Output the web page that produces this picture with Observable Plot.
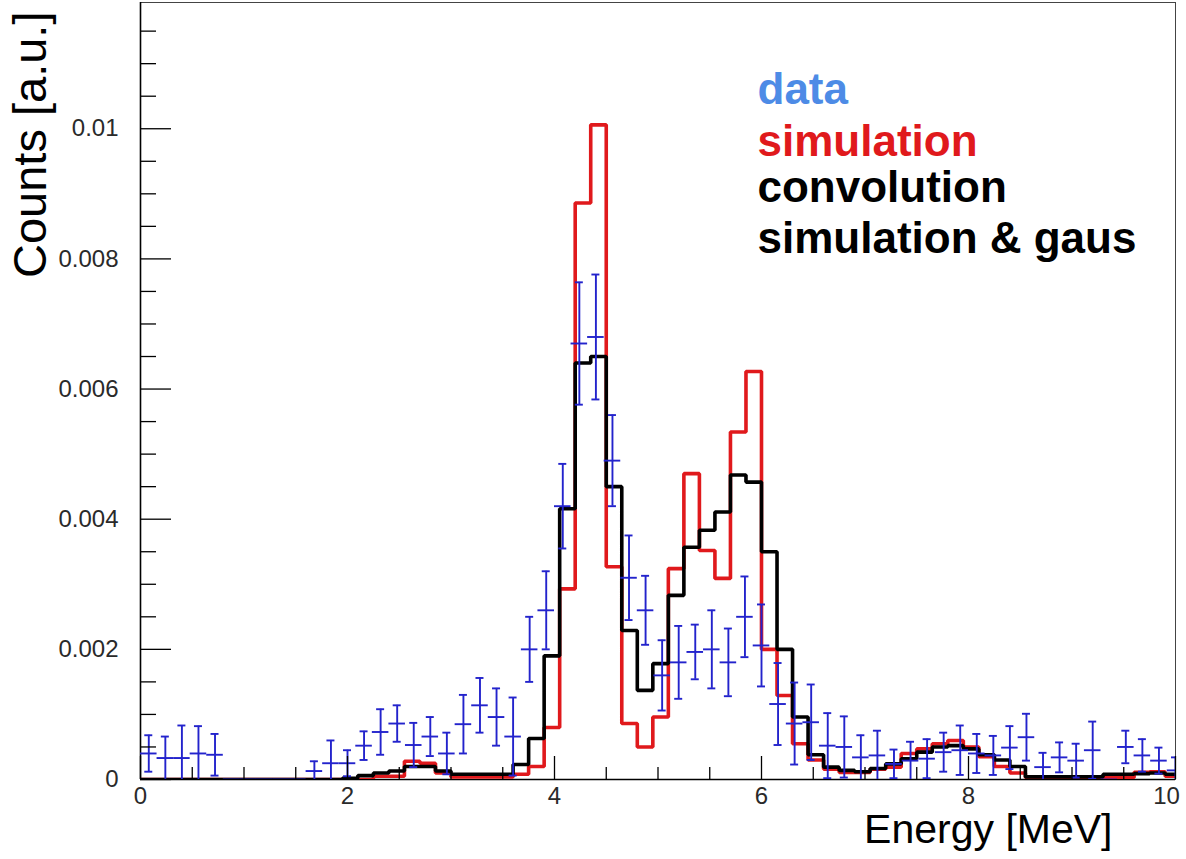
<!DOCTYPE html>
<html>
<head>
<meta charset="utf-8">
<script src="https://cdn.jsdelivr.net/npm/d3@7"></script>
<script src="https://cdn.jsdelivr.net/npm/@observablehq/plot@0.6"></script>
<style>
  html, body { margin: 0; padding: 0; background: #fff; }
</style>
</head>
<body>
<div id="chart"></div>
<script>
// ---- Simulated spectra (0.15 MeV bins starting at 0 MeV) ----
const simBinWidth = 0.15;
const simulation = [
  0, 0, 0, 0, 0, 0, 0, 0, 0, 0,
  0, 0, 0, 0, 0, 0.00005, 0.00005, 0.00028, 0.00025, 0.0001,
  0.00004, 0.00004, 0.00004, 0.00004, 0.00008, 0.0002, 0.0008, 0.00293, 0.00886, 0.01006,
  0.00327, 0.00086, 0.0005, 0.00096, 0.00324, 0.0047, 0.00352, 0.00309, 0.00534, 0.00627,
  0.002, 0.00129, 0.00055, 0.0003, 0.00016, 0.00011, 0.00011, 0.00016, 0.00019, 0.0004,
  0.00047, 0.00055, 0.0006, 0.0005, 0.00035, 0.0002, 0.0001, 0.00003, 0.00003, 0.00003,
  0.00003, 0.00003, 0.00003, 0.00003, 0.00011, 0.00012, 0.00005
];
const convolution = [
  0, 0, 0, 0, 0, 0, 0, 0, 0, 0,
  0, 0, 0, 0.00002, 0.00006, 0.0001, 0.00013, 0.0002, 0.0002, 0.00013,
  0.00008, 0.00008, 0.00008, 0.00008, 0.00023, 0.00063, 0.0019, 0.00416, 0.0064, 0.0065,
  0.0045, 0.00229, 0.00137, 0.00178, 0.00283, 0.00357, 0.00383, 0.00411, 0.00468, 0.00457,
  0.0035, 0.002, 0.00096, 0.00038, 0.00019, 0.00014, 0.00012, 0.00017, 0.00024, 0.00032,
  0.00042, 0.0005, 0.00052, 0.00047, 0.00038, 0.0003, 0.0002, 0.00004, 0.00004, 0.00004,
  0.00004, 0.00004, 0.00008, 0.00008, 0.00009, 0.0001, 0.00008
];

// ---- Measured spectrum (0.16 MeV bins starting at 0 MeV) ----
const dataBinWidth = 0.16;
const dataCounts = [
  0.0004, 0.00033, 0.00033, 0.0004, 0.00038, 0, 0, 0, 0, 0,
  0.00013, 0.00025, 0.00025, 0.00052, 0.00073, 0.00086, 0.00053, 0.00066, 0.0004, 0.00085,
  0.00114, 0.00096, 0.00066, 0.002, 0.0026, 0.0042, 0.0067, 0.0068, 0.0049, 0.0031,
  0.0026, 0.0016, 0.0018, 0.00196, 0.002, 0.0018, 0.0025, 0.00206, 0.00116, 0.00086,
  0.00088, 0.00052, 0.0005, 0.00034, 0.00037, 0.00024, 0.00029, 0.00032, 0.00042, 0.00045,
  0.0004, 0.00037, 0.00049, 0.00065, 0.00019, 0.00034, 0.00029, 0.00045, 0, 0.0005,
  0.00037, 0.00029, 0.00014
];
const dataErrors = [
  0.00028, 0.00033, 0.0005, 0.00042, 0.00032, 0, 0, 0, 0, 0,
  0.00015, 0.00035, 0.0002, 0.00022, 0.00035, 0.00028, 0.00034, 0.0003, 0.00032, 0.00045,
  0.00042, 0.00044, 0.0006, 0.0005, 0.0006, 0.00065, 0.00094, 0.00096, 0.0007, 0.00065,
  0.00053, 0.00054, 0.00056, 0.00042, 0.0006, 0.00052, 0.00062, 0.00063, 0.00063, 0.00063,
  0.00058, 0.0005, 0.00047, 0.00034, 0.00038, 0.00022, 0.00029, 0.0003, 0.0003, 0.00038,
  0.0003, 0.0003, 0.00033, 0.00036, 0.00022, 0.00023, 0.00026, 0.00044, 0, 0.00025,
  0.00025, 0.0002, 0.0002
];

// ---- Axes ----
const xDomain = [0, 10];
const yDomain = [0, 0.01194];
const xTicks = [0, 2, 4, 6, 8, 10];
const xTickLabels = ["0", "2", "4", "6", "8", "10"];
const yTicks = [0, 0.002, 0.004, 0.006, 0.008, 0.01];
const yTickLabels = ["0", "0.002", "0.004", "0.006", "0.008", "0.01"];

// ---- Legend ----
const legendLabels = ["data", "simulation", "convolution", "simulation & gaus"];
const legendColors = ["#4d8be6", "#e0191c", "#000000", "#000000"];

// ---- Layout ----
const width = 1186, height = 859;
const margin = {top: 2, right: 11, bottom: 80, left: 140};
const plotW = width - margin.left - margin.right;
const plotH = height - margin.top - margin.bottom;
const pxPerMeV = plotW / (xDomain[1] - xDomain[0]);
const font = "'Liberation Sans', Arial, Helvetica, sans-serif";

const RED = "#e0191c";
const BLUE = "#2323cc";

// Step outline of a histogram: flat top across each bin
function stepOutline(values, w) {
  const pts = [];
  values.forEach((v, i) => {
    const lo = i * w;
    if (lo >= xDomain[1]) return;
    const hi = Math.min((i + 1) * w, xDomain[1]);
    pts.push({x: lo, y: v}, {x: hi, y: v});
  });
  return pts;
}

const simSteps = stepOutline(simulation, simBinWidth);
const convSteps = stepOutline(convolution, simBinWidth);

const dataRows = dataCounts.map((v, i) => ({
  lo: i * dataBinWidth,
  hi: Math.min((i + 1) * dataBinWidth, xDomain[1]),
  c: i * dataBinWidth + dataBinWidth / 2,
  v,
  e: dataErrors[i]
}));
const withErr = dataRows.filter(d => d.e > 0);
const capHalf = 4 / pxPerMeV;

// Inward ROOT-style ticks
const yMinor = d3.range(1, 24).map(i => i * 0.0005).filter(t => Math.abs(t / 0.002 - Math.round(t / 0.002)) > 1e-6);
const xMinor = d3.range(1, 20).map(i => i * 0.5).filter(t => t % 2 !== 0);

const lastX = xTicks.length - 1;

const chart = Plot.plot({
  width, height,
  marginTop: margin.top, marginRight: margin.right,
  marginBottom: margin.bottom, marginLeft: margin.left,
  style: {fontFamily: font, background: "#fff", color: "#000", overflow: "visible"},
  x: {domain: xDomain},
  y: {domain: yDomain},
  marks: [
    // frame and axis lines
    Plot.frame({stroke: "#444", strokeWidth: 1}),
    Plot.ruleX([xDomain[0]], {stroke: "#000", strokeWidth: 1.6}),
    Plot.ruleY([yDomain[0]], {stroke: "#000", strokeWidth: 1.6}),

    // simulation histogram
    Plot.line(simSteps, {x: "x", y: "y", stroke: RED, strokeWidth: 3.6, strokeLinejoin: "miter", clip: true}),
    // convolution of simulation with a gaussian
    Plot.line(convSteps, {x: "x", y: "y", stroke: "#000", strokeWidth: 3.6, strokeLinejoin: "miter", clip: true}),
    // measured data: bin-wide bars and error bars with caps
    Plot.ruleY(dataRows, {y: "v", x1: "lo", x2: "hi", stroke: BLUE, strokeWidth: 1.9, clip: true}),
    Plot.ruleX(withErr, {x: "c", y1: d => Math.max(0, d.v - d.e), y2: d => d.v + d.e, stroke: BLUE, strokeWidth: 1.9, clip: true}),
    Plot.ruleY(withErr, {y: d => d.v + d.e, x1: d => d.c - capHalf, x2: d => d.c + capHalf, stroke: BLUE, strokeWidth: 1.9, clip: true}),
    Plot.ruleY(withErr.filter(d => d.v - d.e > 0), {y: d => d.v - d.e, x1: d => d.c - capHalf, x2: d => d.c + capHalf, stroke: BLUE, strokeWidth: 1.9, clip: true}),

    // tick marks pointing into the frame
    Plot.ruleY(yTicks, {y: d => d, insetRight: plotW - 31, stroke: "#000", strokeWidth: 1.3}),
    Plot.ruleY(yMinor, {y: d => d, insetRight: plotW - 16, stroke: "#000", strokeWidth: 1.3}),
    Plot.ruleX(xTicks, {x: d => d, insetTop: plotH - 23, stroke: "#000", strokeWidth: 1.3}),
    Plot.ruleX(xMinor, {x: d => d, insetTop: plotH - 12, stroke: "#000", strokeWidth: 1.3}),

    // tick labels
    Plot.axisY({ticks: yTicks, tickFormat: (d, i) => yTickLabels[i], tickSize: 0, tickPadding: 22, fontSize: 24, fill: "#2a2a2a", label: null}),
    Plot.axisX({ticks: xTicks.slice(0, lastX), tickFormat: (d, i) => xTickLabels[i], tickSize: 0, tickPadding: 7, fontSize: 24, fill: "#2a2a2a", label: null}),
    Plot.axisX({ticks: [xTicks[lastX]], tickFormat: () => xTickLabels[lastX], tickSize: 0, tickPadding: 7, dx: -9, fontSize: 24, fill: "#2a2a2a", label: null}),

    // axis titles
    Plot.text(["Counts [a.u.]"], {frameAnchor: "top-left", rotate: -90, textAnchor: "end", dx: -128, dy: 9, fontSize: 47, fill: "#000"}),
    Plot.text(["Energy [MeV]"], {frameAnchor: "bottom-right", textAnchor: "end", dx: -63, dy: 63, fontSize: 41, fill: "#000"}),

    // legend
    ...legendLabels.map((label, i) => Plot.text([label], {
      frameAnchor: "top-left", textAnchor: "start", lineAnchor: "middle",
      dx: 617, dy: [87, 139, 185, 236][i],
      fontSize: 44, fontWeight: "bold", fill: legendColors[i]
    }))
  ]
});

document.getElementById("chart").appendChild(chart);
</script>
</body>
</html>
